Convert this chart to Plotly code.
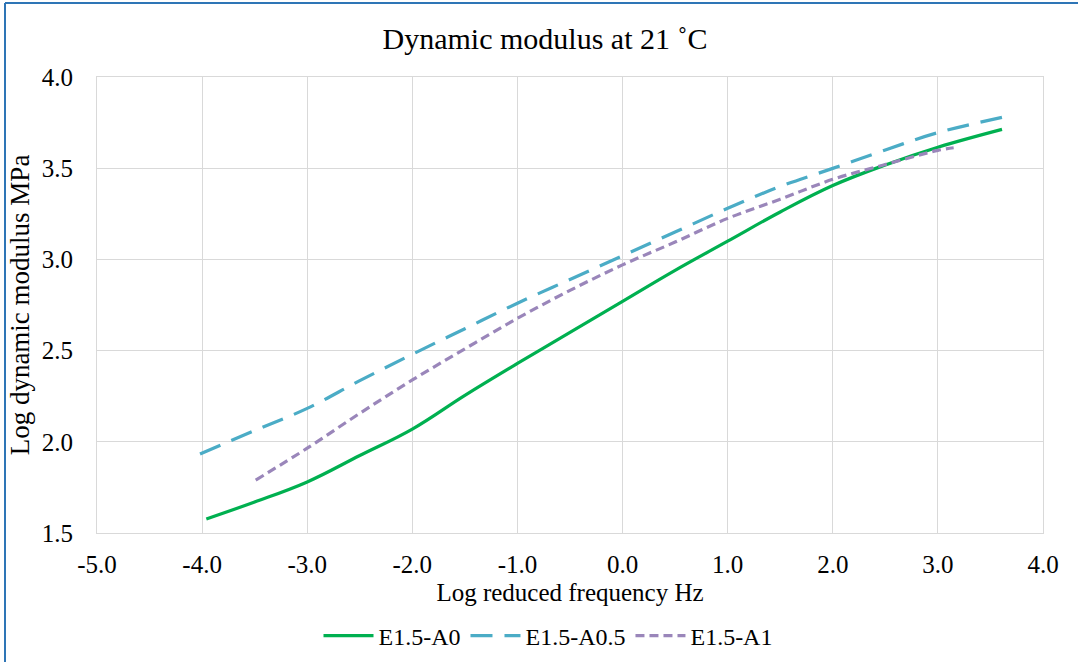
import plotly.graph_objects as go

# ---- data ----
a0_x = [-3.96, -3.5, -3.0, -2.5, -2.0, -1.5, -1.0, -0.5, 0.0, 0.5, 1.0, 1.5, 2.0, 2.5, 3.0, 3.61]
a0_y = [1.577, 1.67, 1.78, 1.925, 2.07, 2.255, 2.43, 2.60, 2.77, 2.94, 3.10, 3.26, 3.405, 3.518, 3.615, 3.713]

a05_x = [-4.02, -3.5, -3.0, -2.5, -2.0, -1.5, -1.0, -0.5, 0.0, 0.5, 1.0, 1.5, 2.0, 2.5, 3.0, 3.67]
a05_y = [1.933, 2.062, 2.183, 2.335, 2.48, 2.62, 2.76, 2.89, 3.02, 3.15, 3.28, 3.40, 3.499, 3.60, 3.695, 3.786]

a1_x = [-3.49, -3.0, -2.5, -2.0, -1.5, -1.0, -0.5, 0.0, 0.5, 1.0, 1.5, 2.0, 2.5, 3.0, 3.15]
a1_y = [1.79, 1.965, 2.156, 2.339, 2.51, 2.677, 2.83, 2.97, 3.095, 3.225, 3.33, 3.439, 3.52, 3.598, 3.612]

series_names = ["E1.5-A0", "E1.5-A0.5", "E1.5-A1"]
x_ticks = [-5.0, -4.0, -3.0, -2.0, -1.0, 0.0, 1.0, 2.0, 3.0, 4.0]
x_tick_labels = ["-5.0", "-4.0", "-3.0", "-2.0", "-1.0", "0.0", "1.0", "2.0", "3.0", "4.0"]
y_ticks = [1.5, 2.0, 2.5, 3.0, 3.5, 4.0]
y_tick_labels = ["1.5", "2.0", "2.5", "3.0", "3.5", "4.0"]

# ---- layout constants ----
W, H = 1078, 662
ML, MR, MT, MB = 97, 35, 77, 129
PW, PH = W - ML - MR, H - MT - MB
FONT = "Liberation Serif, Times New Roman, serif"

def px_to_paper_x(p):
    return (p - ML) / PW

def px_to_paper_y(p):
    return 1 - (p - MT) / PH

fig = go.Figure()
fig.add_trace(go.Scatter(x=a0_x, y=a0_y, name=series_names[0], mode="lines",
                         line=dict(color="#00B050", width=3.2, shape="spline", smoothing=1.1)))
fig.add_trace(go.Scatter(x=a05_x, y=a05_y, name=series_names[1], mode="lines",
                         line=dict(color="#4BACC6", width=3.2, shape="spline", dash="22px,12px")))
fig.add_trace(go.Scatter(x=a1_x, y=a1_y, name=series_names[2], mode="lines",
                         line=dict(color="#9A86BA", width=3.2, shape="spline", dash="9px,5px")))

axis_common = dict(
    showgrid=True, gridcolor="#D9D9D9", gridwidth=1,
    showline=True, linecolor="#D9D9D9", linewidth=1, mirror=True,
    zeroline=False, ticks="",
    tickfont=dict(family=FONT, size=25, color="#000000"),
)

fig.update_layout(
    width=W, height=H,
    margin=dict(l=ML, r=MR, t=MT, b=MB, autoexpand=False),
    paper_bgcolor="white", plot_bgcolor="white",
    font=dict(family=FONT, color="#000000"),
    title=dict(text="Dynamic modulus at 21 ˚C", x=545 / W,
               xanchor="center", y=1 - 38 / H, yanchor="middle",
               font=dict(family=FONT, size=30, color="#000000")),
    xaxis=dict(range=[-5, 4], tickvals=x_ticks, ticktext=x_tick_labels, ticklabelstandoff=9,
               title=dict(text="Log reduced frequency Hz", standoff=6,
                          font=dict(family=FONT, size=25, color="#000000")),
               **axis_common),
    yaxis=dict(range=[1.5, 4.0], tickvals=y_ticks, ticktext=y_tick_labels, ticklabelstandoff=18,
               title=dict(text="Log dynamic modulus MPa", standoff=4,
                          font=dict(family=FONT, size=27, color="#000000")),
               **axis_common),
    legend=dict(orientation="h", x=px_to_paper_x(548), xanchor="center",
                y=px_to_paper_y(636), yanchor="middle",
                font=dict(family=FONT, size=24, color="#000000"),
                bgcolor="rgba(0,0,0,0)", itemwidth=50),
    showlegend=True,
)

# chart frame (blue border on left and top as in the reference)
fig.add_shape(type="line", xref="paper", yref="paper",
              x0=px_to_paper_x(5), x1=px_to_paper_x(5),
              y0=px_to_paper_y(3), y1=px_to_paper_y(H + 5),
              line=dict(color="#2E75B6", width=2))
fig.add_shape(type="line", xref="paper", yref="paper",
              x0=px_to_paper_x(5), x1=px_to_paper_x(W + 5),
              y0=px_to_paper_y(3), y1=px_to_paper_y(3),
              line=dict(color="#2E75B6", width=2))

fig.write_html("out.html")
